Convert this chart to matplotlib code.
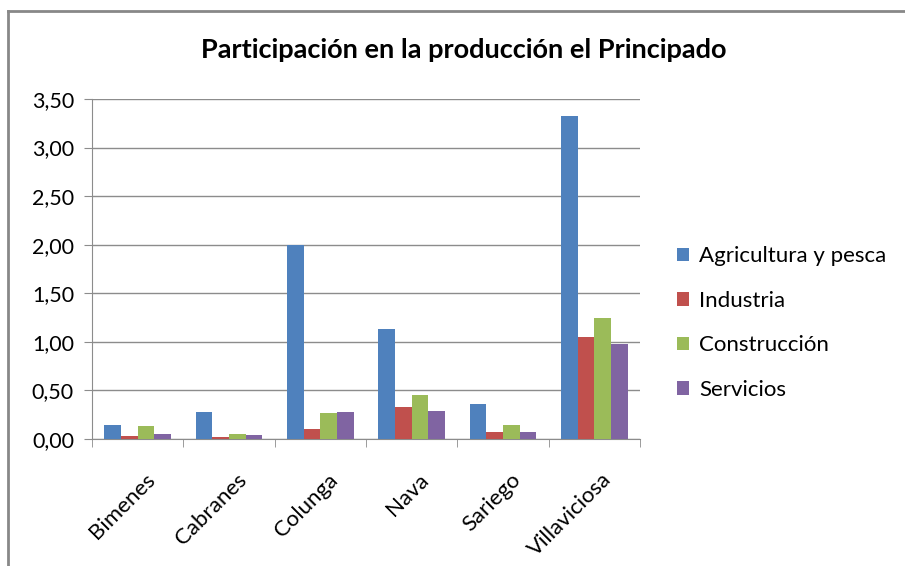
import matplotlib.pyplot as plt
from matplotlib.lines import Line2D
import numpy as np

plt.rcParams['font.family'] = ['Lato', 'DejaVu Sans']

municipios = ['Bimenes', 'Cabranes', 'Colunga', 'Nava', 'Sariego', 'Villaviciosa']
series = ['Agricultura y pesca', 'Industria', 'Construcción', 'Servicios']
agricultura = [0.14, 0.28, 2.00, 1.13, 0.36, 3.32]
industria = [0.03, 0.02, 0.10, 0.33, 0.07, 1.05]
construccion = [0.13, 0.055, 0.265, 0.45, 0.14, 1.25]
servicios = [0.055, 0.045, 0.28, 0.29, 0.07, 0.98]
colores = ['#4F81BD', '#C0504D', '#9BBB59', '#8064A2']
yticks = [0, 0.5, 1.0, 1.5, 2.0, 2.5, 3.0, 3.5]

fig = plt.figure(figsize=(9.05, 5.66), dpi=100)
ax = fig.add_axes([92/905, 1-439/566, 548/905, 340/566])

x = np.arange(len(municipios))
w = 0.183
datos = [agricultura, industria, construccion, servicios]
for i, (vals, nombre, c) in enumerate(zip(datos, series, colores)):
    ax.bar(x + (i - 1.5) * w, vals, w, color=c, label=nombre, zorder=3)

ax.set_xlim(-0.5, len(municipios) - 0.5)
ax.set_ylim(0, 3.5)
ax.set_yticks(yticks)
ax.set_yticklabels([f'{v:.2f}'.replace('.', ',') for v in yticks], fontsize=15.5)
ax.yaxis.grid(True, color='#8c8c8c', linewidth=1, zorder=0)

ax.set_xticks(x + 0.08)
ax.set_xticklabels(municipios, rotation=45, ha='right', rotation_mode='anchor', fontsize=16)
ax.tick_params(axis='x', length=0, pad=22)
ax.set_xticks(np.arange(-0.5, len(municipios)), minor=True)
ax.tick_params(axis='x', which='minor', length=6, color='#8c8c8c')
ax.tick_params(axis='y', length=6, color='#8c8c8c', pad=7)

for s in ['top', 'right']:
    ax.spines[s].set_visible(False)
for s in ['left', 'bottom']:
    ax.spines[s].set_color('#8c8c8c')

fig.text(464/905, 1-50/566, 'Participación en la producción el Principado',
         ha='center', va='center', fontsize=19.5, fontweight='bold')

ax.legend(loc='center left', bbox_to_anchor=(657/905, 1-323/566), bbox_transform=fig.transFigure,
          frameon=False, fontsize=16, handlelength=0.55, handleheight=0.55,
          labelspacing=1.1, handletextpad=0.45)

# borde del área del gráfico
fig.add_artist(Line2D([8/905, 8/905], [0, 1-11/566], color='#888888', lw=2, transform=fig.transFigure))
fig.add_artist(Line2D([8/905, 1], [1-11/566, 1-11/566], color='#888888', lw=2, transform=fig.transFigure))

fig.savefig('out.png', dpi=100)
